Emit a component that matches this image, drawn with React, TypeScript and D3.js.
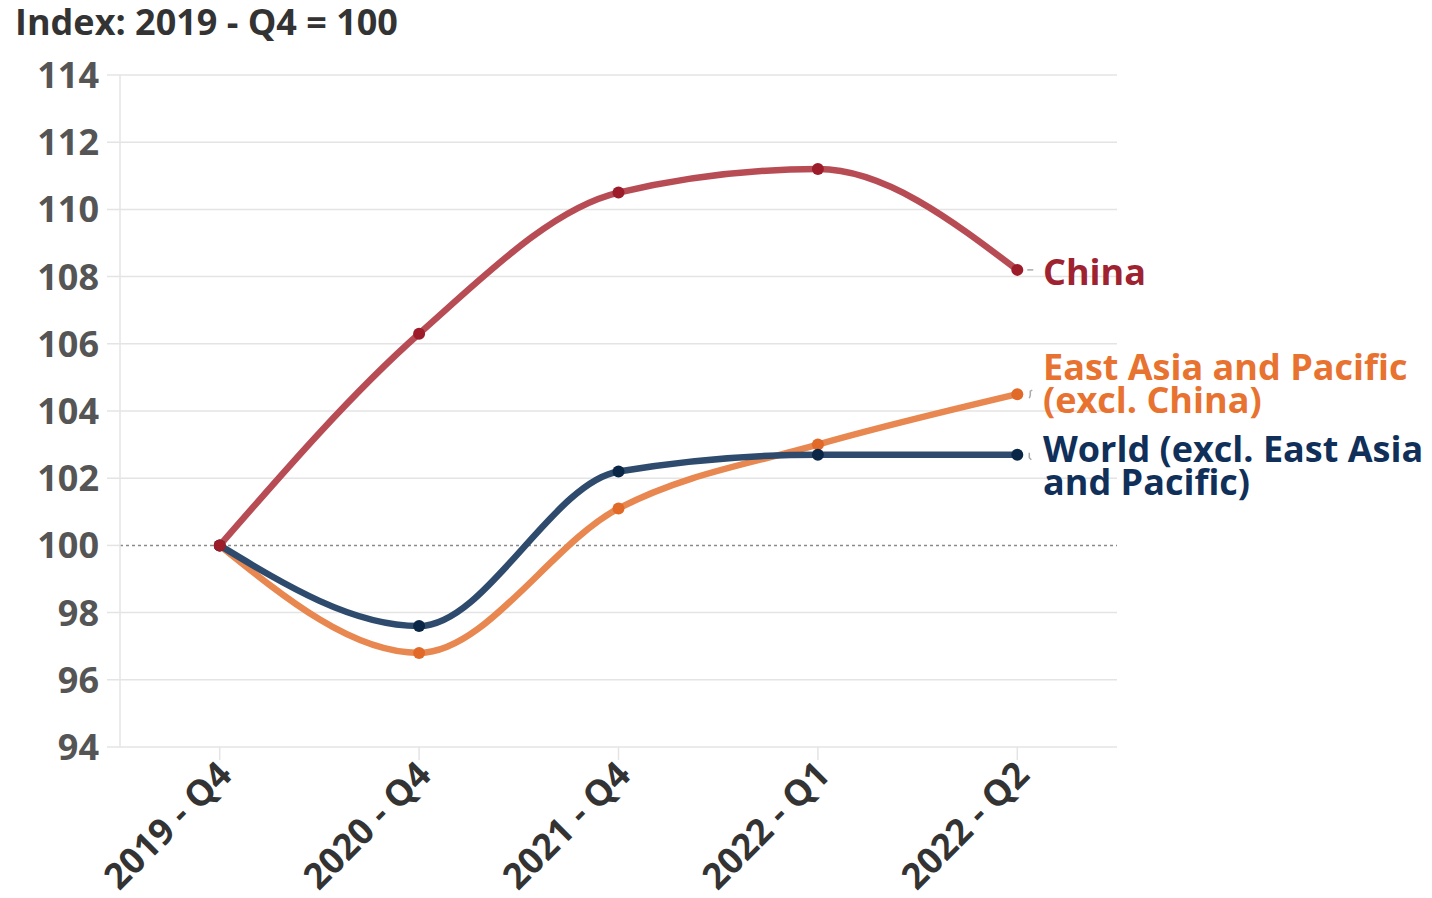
import React from "react";
import * as d3 from "d3";

const quarters = ["2019 - Q4", "2020 - Q4", "2021 - Q4", "2022 - Q1", "2022 - Q2"];
const china = [100, 106.3, 110.5, 111.2, 108.2];
const eastAsia = [100, 96.8, 101.1, 103.0, 104.5];
const world = [100, 97.6, 102.2, 102.7, 102.7];
const yTicks = [94, 96, 98, 100, 102, 104, 106, 108, 110, 112, 114];

const seriesList = [
  { key: "eap", values: eastAsia, line: "#e8874f", dot: "#e26a29", text: "#e8722f", label: ["East Asia and Pacific", "(excl. China)"] },
  { key: "world", values: world, line: "#2e4b6d", dot: "#0b2747", text: "#10305a", label: ["World (excl. East Asia", "and Pacific)"] },
  { key: "china", values: china, line: "#b84c55", dot: "#9d1c29", text: "#9e2230", label: ["China"] },
];

const W = 1432;
const H = 898;
const left = 120;
const right = 1117;
const top = 75;
const bottom = 747;
const FONT = "'Open Sans', 'Noto Sans', sans-serif";
const FS = 36;

export default function App() {
  const x = d3.scalePoint<string>().domain(quarters).range([left, right]).padding(0.5);
  const y = d3.scaleLinear().domain([94, 114]).range([bottom, top]);
  const line = d3
    .line<number>()
    .x((_, i) => x(quarters[i]) as number)
    .y((d) => y(d))
    .curve(d3.curveMonotoneX);

  const lastX = x(quarters[quarters.length - 1]) as number;
  const labelX = 1043;
  // baseline of the first line of each end label
  const labelPos: Record<string, number> = { china: 285, eap: 380, world: 462 };
  const lineGap = 33;

  return (
    <svg width={W} height={H} style={{ position: "absolute", left: 0, top: 0, background: "#fff" }}>
      <text x={15} y={35} fontFamily={FONT} fontWeight={700} fontSize={FS} fill="#333">
        Index: 2019 - Q4 = 100
      </text>

      {yTicks.map((t) => (
        <g key={t}>
          {t !== 100 && (
            <line x1={107} x2={right} y1={y(t)} y2={y(t)} stroke="#e4e4e4" strokeWidth={1.5} />
          )}
          <text
            x={99}
            y={y(t)}
            dy="0.36em"
            textAnchor="end"
            fontFamily={FONT}
            fontWeight={700}
            fontSize={FS}
            fill="#555"
          >
            {t}
          </text>
        </g>
      ))}
      <line x1={107} x2={left} y1={y(100)} y2={y(100)} stroke="#e4e4e4" strokeWidth={1.5} />
      <line x1={left} x2={right} y1={y(100)} y2={y(100)} stroke="#8a8a8a" strokeWidth={1.5} strokeDasharray="3,3" />
      <line x1={left} x2={left} y1={top} y2={bottom} stroke="#e4e4e4" strokeWidth={1.5} />

      {quarters.map((q) => (
        <g key={q}>
          <line x1={x(q)} x2={x(q)} y1={bottom} y2={bottom + 13} stroke="#e4e4e4" strokeWidth={1.5} />
          <text
            transform={`translate(${(x(q) as number) + 14},${bottom + 30}) rotate(-45)`}
            textAnchor="end"
            fontFamily={FONT}
            fontWeight={700}
            fontSize={FS}
            fill="#333"
          >
            {q}
          </text>
        </g>
      ))}

      {seriesList.map((s) => (
        <path key={s.key} d={line(s.values) ?? ""} fill="none" stroke={s.line} strokeWidth={6.5} strokeLinecap="round" />
      ))}
      {seriesList.map((s) => (
        <g key={s.key + "-dots"}>
          {s.values.map((v, i) => (
            <circle key={i} cx={x(quarters[i])} cy={y(v)} r={6} fill={s.dot} />
          ))}
        </g>
      ))}

      {/* connectors from last points to the end labels */}
      <path d={`M${lastX + 10},${y(china[4])} h6`} stroke="#aaa" strokeWidth={1.5} fill="none" />
      <path
        d={`M${lastX + 12},${y(eastAsia[4]) + 4} l1,-3 v-4 l2,-1`}
        stroke="#aaa"
        strokeWidth={1.5}
        fill="none"
      />
      <path
        d={`M${lastX + 12},${y(world[4]) - 2} v5 l2,2`}
        stroke="#aaa"
        strokeWidth={1.5}
        fill="none"
      />

      {seriesList.map((s) =>
        s.label.map((l, i) => (
          <text
            key={s.key + "-label-" + i}
            x={labelX}
            y={labelPos[s.key] + i * lineGap}
            fontFamily={FONT}
            fontWeight={700}
            fontSize={FS}
            fill={s.text}
          >
            {l}
          </text>
        ))
      )}
    </svg>
  );
}
